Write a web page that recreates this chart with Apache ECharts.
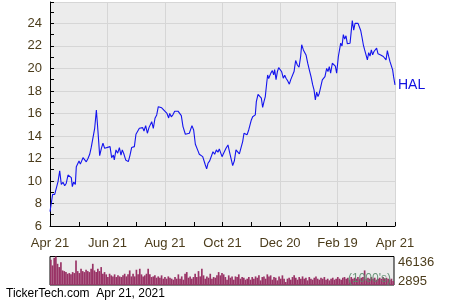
<!DOCTYPE html>
<html><head><meta charset="utf-8">
<script src="https://cdn.jsdelivr.net/npm/echarts@6/dist/echarts.min.js"></script>
<style>html,body{margin:0;padding:0;background:#fff}#c{width:450px;height:300px}</style>
</head><body><div id="c"></div>
<script>
// Calendar day offsets from Apr 21, 2020
var days = [0,2.8,5.0,6.7,8.5,10.3,12.0,13.8,15.6,17.3,19.1,20.9,22.6,23.7,25.1,26.9,27.9,29.0,30.8,32.2,33.2,35.0,36.8,38.5,40.3,42.1,43.8,45.6,47.4,49.2,50.9,52.7,54.5,56.2,58.0,59.8,
63.7,65.4,67.2,68.2,70.0,71.8,73.6,75.3,76.7,78.5,80.3,81.7,83.1,84.9,86.6,89.5,91.2,93.0,94.8,96.5,98.3,99.7,101.5,103.3,105.0,106.8,107.9,109.6,111.4,113.2,114.9,118.5,
120.6,124.1,125.9,127.0,128.7,130.5,132.3,134.0,135.8,137.6,139.3,141.1,142.5,143.6,145.3,147.8,149.6,150.6,152.4,154.2,155.6,157.0,158.4,160.2,162.0,163.7,164.8,166.2,167.6,169.4,171.2,172.9,174.7,176.5,178.2,179.6,181.4,182.5,
184.2,186.7,188.8,190.6,192.4,193.8,195.6,197.3,199.1,200.9,202.6,204.4,205.8,207.2,209.0,210.8,212.2,213.6,215.0,216.1,217.8,218.9,220.7,222.4,224.2,225.6,227.0,228.4,229.9,230.9,232.0,233.0,234.4,235.9,237.3,238.3,239.8,241.2,242.6,244.4,
245.8,247.5,249.0,250.4,252.1,253.9,255.3,257.1,258.9,260.6,262.4,264.2,265.9,267.0,268.8,269.8,271.6,273.4,275.1,276.9,278.7,280.1,281.5,282.9,284.3,285.7,287.2,288.9,290.7,291.7,293.5,294.9,296.3,297.7,299.5,301.3,302.7,304.1,305.9,307.7,
308.4,309.8,311.2,312.6,314.0,315.4,316.9,318.3,319.7,320.7,322.2,323.6,325.0,326.8,328.2,329.6,331.0,332.4,333.8,335.2,336.7,338.1,339.5,340.9,342.3,343.7,345.1,346.5,348.0,349.4,350.8,352.2,353.6,355.0,356.5,357.9,359.3,360.7,362.1,363.5,364.5,366];
var prices = [7.27,8.82,8.8,8.8,9.94,10.9,9.7,9.88,9.58,9.8,10.53,10.5,10.3,9.5,9.9,9.7,11.27,11.1,11.78,11.5,11.7,12.07,11.96,11.7,12.0,12.37,13.0,13.05,14.68,16.3,14.4,12.25,12.9,13.35,12.9,13.05,
13.05,12.07,12.3,11.87,12.76,12.47,12.97,12.3,12.76,12.37,11.87,12.0,11.72,12.3,12.97,13.05,14.15,14.1,14.68,14.53,14.74,14.44,14.92,14.24,14.74,14.83,15.27,14.68,15.57,15.87,16.6,16.5,
16.4,16.0,15.6,16.0,15.7,15.9,16.2,16.1,16.2,16.15,15.8,14.83,14.96,14.15,14.18,14.24,14.4,14.92,14.53,13.26,13.14,12.67,12.37,12.47,12.16,12.16,11.42,11.07,11.57,11.78,11.78,12.6,12.37,12.76,12.55,12.85,12.97,12.16,
12.46,12.9,13.2,12.52,11.87,11.36,11.8,12.76,12.9,12.4,12.34,13.5,14.24,14.1,14.1,14.53,14.98,15.42,15.7,15.6,15.87,17.05,17.7,17.8,17.36,16.53,17.05,17.5,18.7,19.42,19.1,19.0,19.6,19.8,19.42,19.9,19.0,19.7,20.07,20.0,
19.7,19.13,19.4,19.13,18.9,18.6,18.98,18.83,19.72,20.7,20.3,20.1,21.06,22.1,21.64,21.7,21.2,20.46,19.87,19.27,18.53,18.09,17.2,17.9,17.5,17.8,17.9,18.98,18.98,19.27,20.0,19.72,20.15,19.57,20.46,20.5,20.2,19.57,21.06,21.0,
22.24,22.0,23.0,22.6,22.9,22.2,22.24,22.24,23.4,24.25,23.4,24.0,23.9,24.0,24.0,23.37,22.77,22.1,21.64,21.5,20.76,21.4,21.1,21.64,21.2,21.5,21.4,21.8,21.3,21.35,21.2,21.35,21.06,21.0,20.76,21.58,21.06,20.6,20.5,19.87,19.27,18.53];
var volumes = [40800,31700,44000,46100,34300,29000,37000,23600,22500,20900,18200,19300,17200,20900,19300,39700,22500,19300,26300,22500,20900,24700,22500,20900,26300,34300,23600,20900,26300,22500,29000,18200,20900,17200,12900,18200,15600,13900,17200,12900,15600,13900,12900,15600,18200,13900,17200,23600,13900,18200,13900,24700,17200,26300,17200,13900,15600,18200,26300,17200,12900,13900,15600,11800,13900,11800,15600,10200,12900,10200,13900,11800,10200,8600,12900,10200,17200,10200,13900,8600,18200,20900,11800,13900,10200,12900,18200,12900,22500,13900,26300,15600,10200,13900,11800,18200,10200,12900,11800,15600,20900,15600,19300,17200,12900,8600,15600,11800,13900,8600,13900,12900,17200,10200,12900,11800,8600,10200,12900,8600,12900,10200,13900,11800,15600,7500,12900,13900,10200,17200,13900,15600,8600,12900,11800,7500,13900,10200,15600,10200,4800,10200,11800,8600,12900,15600,11800,8600,12900,10200,13900,10200,11800,7500,12900,10200,8600,11800,13900,10200,8600,11800,10200,12900,8600,10200,7500,10200,11800,8600,10200,12900,10200,8600,11800,12900,10200,11800,8600,12900,10200,11800,10200,12900,10200,11800,12900,23600,10200,11800,10200,12900,10200,11800,8600,10200,11800,10200,12900,10200,11800,10200,8600,10200,6400];
var xTickLabels = ['Apr 21','Jun 21','Aug 21','Oct 21','Dec 20','Feb 19','Apr 21'];
var volMaxLabel = '46136', volMinLabel = '2895', volUnit = "(1000's)";
var ticker = 'HAL', footer = 'TickerTech.com  Apr 21, 2021';

var FONT = 'Liberation Sans';
var TXT = '#4b3c1b';
var chart = echarts.init(document.getElementById('c'), null, {renderer:'canvas'});
var priceData = days.map(function(d,i){return [d, prices[i]];});
var volCats = volumes.map(function(v,i){return i;});

chart.setOption({
  animation:false,
  backgroundColor:'#ffffff',
  grid:[
    {left:50, top:2, width:345, height:224, show:true, backgroundColor:'#ececec', borderWidth:0},
    {left:50, top:256.5, width:344, height:28.5, show:true, backgroundColor:'#ececec', borderColor:'#000', borderWidth:1}
  ],
  xAxis:[
    {type:'value', gridIndex:0, min:0, max:366, interval:61,
      axisLine:{show:true, lineStyle:{color:'#000', width:1}},
      axisTick:{show:true, inside:true, length:4, lineStyle:{color:'#000'}},
      minorTick:{show:true, splitNumber:2, length:4, lineStyle:{color:'#000'}},
      splitLine:{show:true, lineStyle:{color:'#d6d6d6', width:1}},
      axisLabel:{margin:11, color:TXT, fontFamily:FONT, fontSize:13,
        formatter:function(v){var i=Math.round(v/61); return xTickLabels[i]||'';}}
    },
    {type:'category', gridIndex:1, data:volCats, show:false, boundaryGap:true}
  ],
  yAxis:[
    {type:'value', gridIndex:0, min:6, max:25.9, interval:2,
      axisLine:{show:true, lineStyle:{color:'#000', width:1}},
      axisTick:{show:true, inside:true, length:4, lineStyle:{color:'#000'}},
      minorTick:{show:true, splitNumber:2, length:4, lineStyle:{color:'#000'}},
      splitLine:{show:true, lineStyle:{color:'#d6d6d6', width:1}},
      axisLabel:{margin:8, color:TXT, fontFamily:FONT, fontSize:13,
        formatter:function(v){return Math.abs(v-Math.round(v))<1e-6 ? String(v) : '';}}
    },
    {type:'value', gridIndex:1, min:0, max:46136, show:false}
  ],
  series:[
    {type:'line', xAxisIndex:0, yAxisIndex:0, data:priceData, showSymbol:false, symbol:'none',
      lineStyle:{color:'#1414ee', width:1.1},
      endLabel:{show:true, formatter:ticker, color:'#1010e0', fontFamily:FONT, fontSize:14, distance:3}},
    {type:'bar', xAxisIndex:1, yAxisIndex:1, data:volumes, barWidth:'100%', barCategoryGap:'0%',
      itemStyle:{color:'#993366'}}
  ],
  graphic:[
    {type:'text', left:398, top:256, style:{text:volMaxLabel, fill:TXT, font:'13px "Liberation Sans"'}},
    {type:'text', left:398, top:275, style:{text:volMinLabel, fill:TXT, font:'13px "Liberation Sans"'}},
    {type:'text', left:348, top:273, z:100, style:{text:volUnit, fill:'#5b8a6b', opacity:0.9, font:'12px "Liberation Sans"'}},
    {type:'text', left:6, top:288, style:{text:footer, fill:'#000', font:'12px "Liberation Sans"'}}
  ]
});
</script></body></html>
